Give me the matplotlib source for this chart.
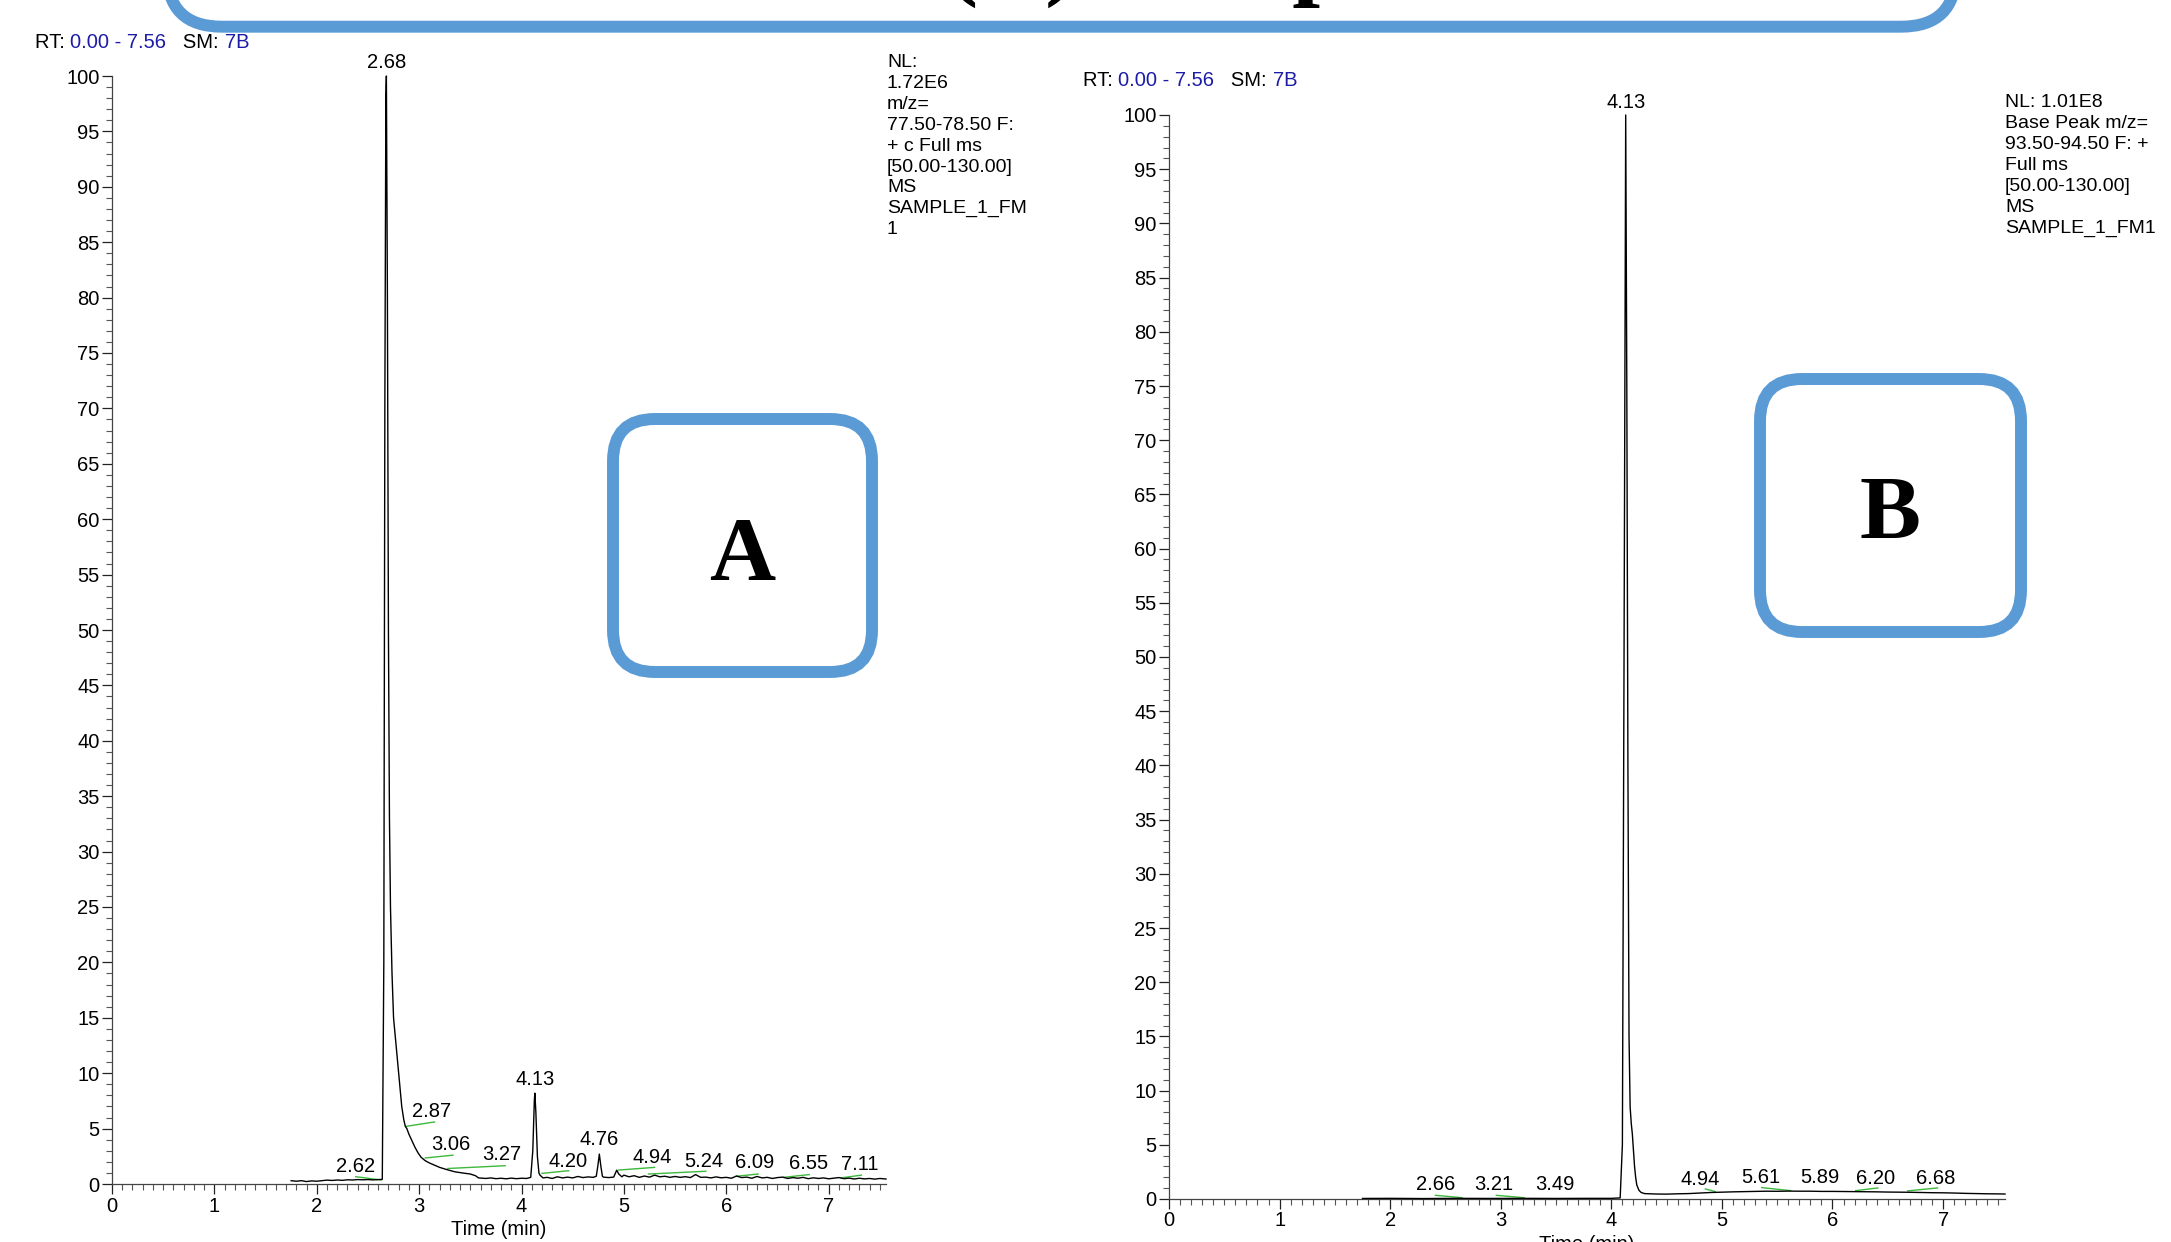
import matplotlib
matplotlib.use("Agg")
import matplotlib.pyplot as plt
from matplotlib.patches import FancyBboxPatch
from matplotlib.ticker import MultipleLocator

plt.rcParams['font.family'] = ['Liberation Sans', 'DejaVu Sans']

# ---------------- data: chromatogram A (m/z 77.50-78.50) ----------------
a_time = [1.75, 1.80, 1.85, 1.90, 1.95, 2.00, 2.05, 2.10, 2.15, 2.20, 2.25, 2.30,
          2.35, 2.40, 2.45, 2.50, 2.55, 2.60, 2.64, 2.655, 2.665, 2.675, 2.68,
          2.69, 2.70, 2.71, 2.72, 2.735, 2.75, 2.77, 2.79, 2.81, 2.83, 2.85,
          2.865, 2.88, 2.90, 2.93, 2.96, 2.99, 3.02, 3.06, 3.10, 3.15, 3.20,
          3.27, 3.35, 3.42, 3.50, 3.55, 3.58, 3.65, 3.70, 3.75, 3.80, 3.85,
          3.90, 3.95, 4.00, 4.05, 4.09, 4.11, 4.125, 4.13, 4.14, 4.155, 4.17,
          4.18, 4.21, 4.25, 4.30, 4.35, 4.40, 4.45, 4.50, 4.55, 4.60, 4.65,
          4.70, 4.73, 4.745, 4.76, 4.775, 4.79, 4.80, 4.85, 4.90, 4.93, 4.95,
          4.98, 5.00, 5.05, 5.10, 5.15, 5.20, 5.25, 5.30, 5.35, 5.40, 5.45,
          5.50, 5.55, 5.60, 5.65, 5.70, 5.75, 5.80, 5.85, 5.90, 5.95, 6.00,
          6.05, 6.10, 6.15, 6.20, 6.25, 6.30, 6.35, 6.40, 6.45, 6.50, 6.55,
          6.60, 6.65, 6.70, 6.75, 6.80, 6.85, 6.90, 6.95, 7.00, 7.05, 7.10,
          7.15, 7.20, 7.25, 7.30, 7.35, 7.40, 7.45, 7.50, 7.56]
a_int = [0.30, 0.25, 0.30, 0.22, 0.28, 0.25, 0.30, 0.35, 0.32, 0.36, 0.33, 0.38,
         0.36, 0.40, 0.38, 0.40, 0.37, 0.40, 0.42, 20.0, 70.0, 98.0, 100.0,
         80.0, 50.0, 33.0, 25.0, 19.0, 15.0, 13.0, 11.0, 9.0, 7.0, 5.8,
         5.2, 5.0, 4.5, 3.9, 3.3, 2.8, 2.4, 2.1, 1.9, 1.7, 1.5,
         1.3, 1.1, 1.0, 0.90, 0.75, 0.55, 0.50, 0.55, 0.48, 0.52, 0.47,
         0.53, 0.48, 0.52, 0.50, 0.60, 3.0, 7.5, 8.2, 6.5, 2.5, 1.0,
         0.80, 0.55, 0.60, 0.50, 0.65, 0.55, 0.62, 0.55, 0.68, 0.58, 0.64,
         0.60, 0.70, 1.6, 2.7, 1.6, 0.70, 0.62, 0.58, 0.62, 1.25, 0.90,
         0.65, 0.80, 0.65, 0.75, 0.60, 0.72, 0.62, 0.80, 0.65, 0.70, 0.60,
         0.68, 0.60, 0.66, 0.58, 0.85, 0.60, 0.62, 0.55, 0.64, 0.56, 0.60,
         0.52, 0.72, 0.58, 0.62, 0.52, 0.68, 0.55, 0.60, 0.50, 0.58, 0.62,
         0.50, 0.58, 0.52, 0.60, 0.48, 0.56, 0.50, 0.55, 0.47, 0.52, 0.58,
         0.48, 0.53, 0.45, 0.52, 0.46, 0.50, 0.44, 0.50, 0.45]

a_label_text = ["2.68", "2.62", "2.87", "3.06", "3.27", "4.13", "4.20", "4.76",
                "4.94", "5.24", "6.09", "6.55", "7.11"]
a_label_x = [2.68, 2.38, 3.12, 3.31, 3.81, 4.13, 4.45, 4.76, 5.28, 5.78, 6.28, 6.80, 7.30]
a_label_y = [100.4, 0.75, 5.7, 2.7, 1.8, 8.6, 1.2, 3.2, 1.5, 1.2, 1.05, 0.95, 0.9]

a_green_x0 = [2.38, 2.87, 3.06, 3.28, 4.20, 4.95, 5.24, 6.10, 6.56, 7.12]
a_green_y0 = [0.66, 5.20, 2.35, 1.40, 0.96, 1.26, 0.90, 0.70, 0.60, 0.55]
a_green_x1 = [2.63, 3.15, 3.33, 3.84, 4.46, 5.30, 5.80, 6.31, 6.81, 7.32]
a_green_y1 = [0.36, 5.60, 2.60, 1.65, 1.20, 1.50, 1.15, 0.90, 0.85, 0.80]

# ---------------- data: chromatogram B (base peak m/z 93.50-94.50) ----------------
b_time = [1.75, 2.00, 2.30, 2.60, 2.90, 3.20, 3.50, 3.80, 4.00, 4.08, 4.10,
          4.115, 4.13, 4.14, 4.15, 4.16, 4.17, 4.18, 4.19, 4.20, 4.21, 4.22,
          4.23, 4.25, 4.27, 4.30, 4.40, 4.50, 4.60, 4.70, 4.80, 4.90, 5.00,
          5.10, 5.20, 5.30, 5.40, 5.50, 5.60, 5.70, 5.80, 5.90, 6.00, 6.10,
          6.20, 6.30, 6.40, 6.50, 6.60, 6.70, 6.80, 6.90, 7.00, 7.10, 7.20,
          7.30, 7.40, 7.50, 7.56]
b_int = [0.05, 0.06, 0.04, 0.06, 0.05, 0.06, 0.05, 0.06, 0.06, 0.10, 5.0,
         50.0, 100.0, 75.0, 40.0, 15.0, 8.5, 7.0, 6.0, 4.5, 3.0, 2.0,
         1.3, 0.80, 0.60, 0.50, 0.46, 0.45, 0.48, 0.50, 0.55, 0.60, 0.63,
         0.66, 0.68, 0.70, 0.72, 0.71, 0.73, 0.72, 0.72, 0.70, 0.70, 0.69,
         0.68, 0.67, 0.66, 0.64, 0.63, 0.62, 0.60, 0.58, 0.57, 0.55, 0.52,
         0.50, 0.48, 0.47, 0.46]

b_label_text = ["4.13", "2.66", "3.21", "3.49", "4.94", "5.61", "5.89", "6.20", "6.68"]
b_label_x = [4.13, 2.41, 2.94, 3.49, 4.80, 5.35, 5.89, 6.39, 6.93]
b_label_y = [100.3, 0.46, 0.46, 0.46, 0.93, 1.10, 1.08, 1.05, 1.05]

b_green_x0 = [2.41, 2.96, 4.85, 5.36, 6.21, 6.68]
b_green_y0 = [0.34, 0.34, 0.93, 1.05, 0.77, 0.75]
b_green_x1 = [2.65, 3.21, 4.94, 5.62, 6.41, 6.95]
b_green_y1 = [0.12, 0.12, 0.68, 0.77, 1.02, 1.02]

a_info = "NL:\n1.72E6\nm/z=\n77.50-78.50 F:\n+ c Full ms\n[50.00-130.00]\nMS\nSAMPLE_1_FM\n1"
b_info = "NL: 1.01E8\nBase Peak m/z=\n93.50-94.50 F: +\nFull ms\n[50.00-130.00]\nMS\nSAMPLE_1_FM1"

W, H = 2171, 1242
fig = plt.figure(figsize=(W / 100, H / 100), dpi=100)
fig.patch.set_facecolor('white')

axA = fig.add_axes([112 / W, 1 - 1184 / H, (886 - 112) / W, (1184 - 76) / H])
axB = fig.add_axes([1169 / W, 1 - 1199 / H, (2005 - 1169) / W, (1199 - 115) / H])

GREEN = '#3db83d'
BLUE = '#1c1ca8'
BOXC = '#5b9bd5'
FS = 14.5


def style(ax):
    ax.set_xlim(0, 7.56)
    ax.set_ylim(0, 100)
    for s in ('top', 'right'):
        ax.spines[s].set_visible(False)
    for s in ('left', 'bottom'):
        ax.spines[s].set_color('#444444')
        ax.spines[s].set_linewidth(0.9)
    ax.xaxis.set_major_locator(MultipleLocator(1))
    ax.xaxis.set_minor_locator(MultipleLocator(0.1))
    ax.yaxis.set_major_locator(MultipleLocator(5))
    ax.yaxis.set_minor_locator(MultipleLocator(1))
    ax.tick_params(which='major', length=7, width=0.9, labelsize=FS, pad=2,
                   colors='#222222', labelcolor='black')
    ax.tick_params(which='minor', length=4, width=0.8, colors='#555555')
    ax.set_xlabel('Time (min)', fontsize=FS, labelpad=3)
    ax.patch.set_alpha(0)


for ax, t, y, lt, lx, ly, gx0, gy0, gx1, gy1 in (
        (axA, a_time, a_int, a_label_text, a_label_x, a_label_y,
         a_green_x0, a_green_y0, a_green_x1, a_green_y1),
        (axB, b_time, b_int, b_label_text, b_label_x, b_label_y,
         b_green_x0, b_green_y0, b_green_x1, b_green_y1)):
    style(ax)
    for x0, y0, x1, y1 in zip(gx0, gy0, gx1, gy1):
        ax.plot([x0, x1], [y0, y1], color=GREEN, lw=1.0, zorder=2)
    ax.plot(t, y, color='black', lw=1.0, zorder=3, clip_on=False)
    for s, x, yy in zip(lt, lx, ly):
        ax.text(x, yy, s, ha='center', va='bottom', fontsize=FS, zorder=4)


def header(ax, x, y):
    a = fig.text(x, y, "RT: ", fontsize=FS, va='center', ha='left')
    b = ax.annotate("0.00 - 7.56", xy=(1, 0.5), xycoords=a, va='center', ha='left',
                    fontsize=FS, color=BLUE, annotation_clip=False)
    c = ax.annotate("   SM: ", xy=(1, 0.5), xycoords=b, va='center', ha='left',
                    fontsize=FS, annotation_clip=False)
    ax.annotate("7B", xy=(1, 0.5), xycoords=c, va='center', ha='left',
                fontsize=FS, color=BLUE, annotation_clip=False)


header(axA, 35 / W, 1 - 42 / H)
header(axB, 1083 / W, 1 - 80 / H)

fig.text(887 / W, 1 - 54 / H, a_info, fontsize=14, va='top', ha='left', linespacing=1.3)
fig.text(2005 / W, 1 - 94 / H, b_info, fontsize=14, va='top', ha='left', linespacing=1.3)

# rounded label boxes (inches via dpi_scale_trans)
tr = fig.dpi_scale_trans
for (x0, y0, x1, y1, letter, cx, by) in ((613, 419, 872, 672, 'A', 742, 580),
                                         (1760, 379, 2021, 632, 'B', 1890, 539)):
    p = FancyBboxPatch((x0 / 100, (H - y1) / 100), (x1 - x0) / 100, (y1 - y0) / 100,
                       boxstyle='round,pad=0,rounding_size=0.42', transform=tr,
                       facecolor='white', edgecolor=BOXC, linewidth=8.6, zorder=5)
    fig.patches.append(p)
    fig.text(cx / W, 1 - by / H, letter, fontsize=66, fontweight='bold',
             family=['Liberation Serif', 'DejaVu Serif'], ha='center', va='baseline', zorder=6)

# title box partly off the top edge
tb = FancyBboxPatch((167 / 100, (H - 26.7) / 100), (1956 - 167) / 100, 3.0,
                    boxstyle='round,pad=0,rounding_size=0.55', transform=tr,
                    facecolor='white', edgecolor=BOXC, linewidth=8.6, zorder=5)
fig.patches.append(tb)
fig.text(945 / W, 1 + 13 / H, "(B) Sample 1", fontsize=72, fontweight='bold',
         family=['Liberation Serif', 'DejaVu Serif'], ha='left', va='baseline', zorder=6)

fig.savefig('out.png', dpi=100, facecolor='white')
